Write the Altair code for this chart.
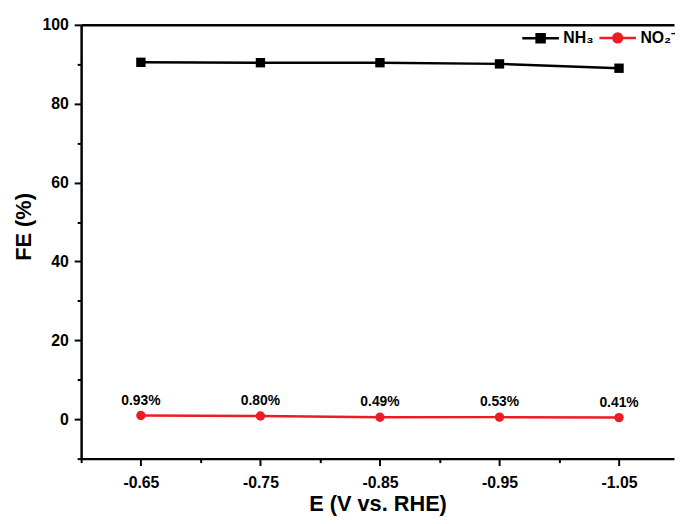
import altair as alt
import pandas as pd

potentials = [-0.65, -0.75, -0.85, -0.95, -1.05]
nh3_fe = [90.5, 90.4, 90.4, 90.1, 89.0]
no2_fe = [0.93, 0.80, 0.49, 0.53, 0.41]
no2_labels = ["0.93%", "0.80%", "0.49%", "0.53%", "0.41%"]
series_names = ["NH₃", "NO₂⁻"]
series_colors = ["#000000", "#ec1c24"]
x_major = [-0.65, -0.75, -0.85, -0.95, -1.05]
x_minor = [-0.60, -0.70, -0.80, -0.90, -1.00]
y_major = [0, 20, 40, 60, 80, 100]
y_minor = [-10, 10, 30, 50, 70, 90]
x_domain = [-0.60, -1.096]
y_domain = [-10, 100]

FONT = "Liberation Sans"

rows = []
for e, v in zip(potentials, nh3_fe):
    rows.append({"E": e, "FE": v, "series": series_names[0], "label": ""})
for e, v, l in zip(potentials, no2_fe, no2_labels):
    rows.append({"E": e, "FE": v, "series": series_names[1], "label": l})
df = pd.DataFrame(rows)
nh3_df = df[df["series"] == series_names[0]]
no2_df = df[df["series"] == series_names[1]]

xs = alt.Scale(domain=x_domain, nice=False, zero=False)
ys = alt.Scale(domain=y_domain, nice=False, zero=False)
cs = alt.Scale(domain=series_names, range=series_colors)

# legend symbols: a line with a square / a line with a circle
legend_paths = [
    "M-1,0H1M-0.22,-0.22H0.22V0.22H-0.22Z",
    "M-1,0H1M0.24,0A0.24,0.24,0,1,1,-0.24,0A0.24,0.24,0,1,1,0.24,0Z",
]
shs = alt.Scale(domain=series_names, range=legend_paths)

legend = alt.Legend(
    title=None, orient="none", legendX=445, legendY=-7, direction="horizontal",
    symbolSize=1369, labelFont=FONT, labelFontSize=16, labelFontWeight="bold",
    labelColor="black", labelOffset=3, columnPadding=0, symbolStrokeWidth=2.5,
    symbolOpacity=1,
)

axis_common = dict(domainColor="black", domainWidth=2.5, tickColor="black", tickWidth=2,
                   labelFont=FONT, labelFontWeight="bold", labelColor="black",
                   titleFont=FONT, titleFontWeight="bold", titleColor="black", grid=False)

x_main = alt.Axis(values=x_major, tickSize=7, labelFontSize=16, labelPadding=9,
                  labelExpr="'-' + format(abs(datum.value), '.2f')",
                  title="E (V vs. RHE)", titleFontSize=22, titlePadding=3, **axis_common)
y_main = alt.Axis(values=y_major, tickSize=7, labelFontSize=16, labelPadding=6,
                  title="FE (%)", titleFontSize=22,
                  titleX=-58, titleY=204, titleBaseline="middle", titleAlign="center",
                  **axis_common)

legend_layer = alt.Chart(df).mark_point(filled=True, opacity=1, strokeWidth=2.5).encode(
    x=alt.X("E:Q", scale=xs, axis=None),
    y=alt.Y("FE:Q", scale=ys, axis=None),
    color=alt.Color("series:N", scale=cs, legend=legend),
    stroke=alt.Stroke("series:N", scale=cs, legend=legend),
    shape=alt.Shape("series:N", scale=shs, legend=legend),
).transform_filter("false")

lines = alt.Chart(df).mark_line(strokeWidth=2.5).encode(
    x=alt.X("E:Q", scale=xs, axis=x_main),
    y=alt.Y("FE:Q", scale=ys, axis=y_main),
    color=alt.Color("series:N", scale=cs, legend=None),
    detail="series:N",
)

squares = alt.Chart(nh3_df).mark_square(size=90, opacity=1).encode(
    x=alt.X("E:Q", scale=xs, axis=None),
    y=alt.Y("FE:Q", scale=ys, axis=None),
    color=alt.Color("series:N", scale=cs, legend=None),
)

circles = alt.Chart(no2_df).mark_circle(size=90, opacity=1).encode(
    x=alt.X("E:Q", scale=xs, axis=None),
    y=alt.Y("FE:Q", scale=ys, axis=None),
    color=alt.Color("series:N", scale=cs, legend=None),
)

labels = alt.Chart(no2_df).mark_text(font=FONT, fontSize=14, fontWeight="bold",
                                     color="black", dy=-15).encode(
    x=alt.X("E:Q", scale=xs, axis=None),
    y=alt.Y("FE:Q", scale=ys, axis=None),
    text="label:N",
)

minor = alt.Chart(df).mark_point(opacity=0, size=1).encode(
    x=alt.X("E:Q", scale=xs, axis=alt.Axis(values=x_minor, tickSize=4, labels=False,
                                            domain=False, title=None, orient="bottom",
                                            **axis_common)),
    y=alt.Y("FE:Q", scale=ys, axis=alt.Axis(values=y_minor, tickSize=4, labels=False,
                                             domain=False, title=None, orient="left",
                                             **axis_common)),
)

top_border = alt.Chart(df).mark_point(opacity=0, size=1).encode(
    x=alt.X("E:Q", scale=xs, axis=alt.Axis(orient="top", ticks=False, labels=False,
                                            domain=True, title=None, **axis_common)),
    y=alt.Y("FE:Q", scale=ys, axis=None),
)

chart = alt.layer(legend_layer, lines, squares, circles, labels, minor, top_border).resolve_axis(
    x="independent", y="independent"
).properties(
    width=600, height=439,
    autosize=alt.AutoSizeParams(type="none"),
    padding={"left": 74, "top": 14, "right": 1, "bottom": 55},
    background="white",
).configure_view(stroke=None)

chart.save("out.html", embed_options={"renderer": "svg", "actions": False})
